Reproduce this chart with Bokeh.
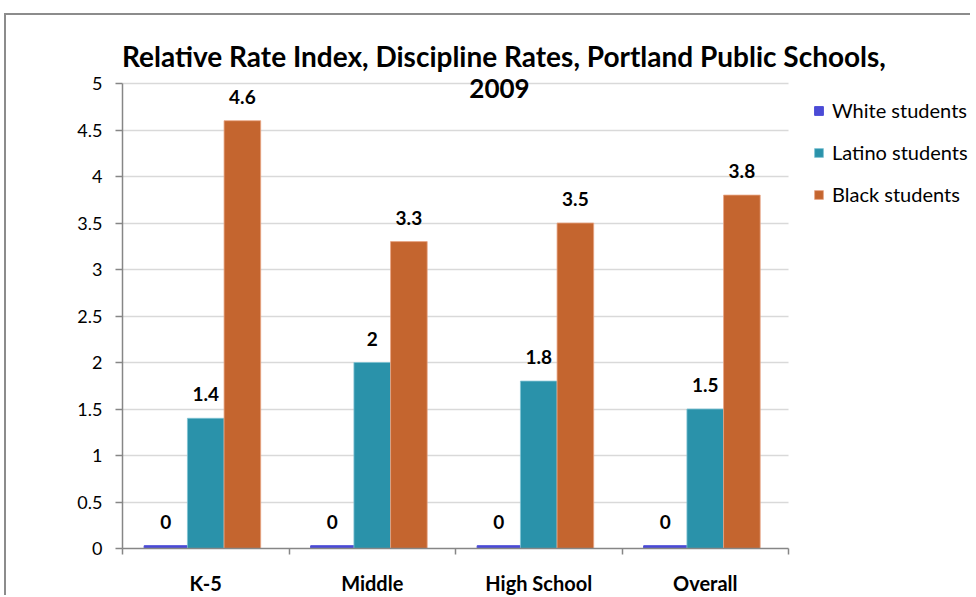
from bokeh.plotting import figure
from bokeh.models import (Range1d, LinearAxis, FixedTicker,
                          ColumnDataSource, Legend, LegendItem, Label)
from bokeh.transform import dodge
from bokeh.core.properties import value
from bokeh.embed import file_html
from bokeh.resources import INLINE

categories = ["K-5", "Middle", "High School", "Overall"]
white = [0.03, 0.03, 0.03, 0.03]
latino = [1.4, 2.0, 1.8, 1.5]
black = [4.6, 3.3, 3.5, 3.8]
series_names = ["White students", "Latino students", "Black students"]
y_ticks = [0, 0.5, 1, 1.5, 2, 2.5, 3, 3.5, 4, 4.5, 5]
title_lines = ["Relative Rate Index, Discipline Rates, Portland Public Schools,", "2009"]

FONT = "Lato"
colors = ["#4B4BD6", "#2A92AA", "#C4652F"]

def fmt(v):
    return f"{round(v, 1):g}"

n = len(categories)
centers = [i + 0.5 for i in range(n)]
boundaries = list(range(n + 1))
y_max_tick = y_ticks[-1]

src = ColumnDataSource(dict(
    xc=centers, white=white, latino=latino, black=black,
    wl=[fmt(v) for v in white], ll=[fmt(v) for v in latino], bl=[fmt(v) for v in black],
))

# canvas geometry (pixels)
W, H = 966, 582
LEFT, BOTTOM = 116, 49
PX_PER_CAT = 166.5
PX_PER_UNIT = 93.0
x_end = (W - LEFT) / PX_PER_CAT
y_end = (H - BOTTOM) / PX_PER_UNIT

p = figure(width=W, height=H, x_range=Range1d(0, x_end),
           y_range=Range1d(0, y_end), output_backend="svg", toolbar_location=None,
           x_axis_location=None, y_axis_location=None,
           min_border_left=LEFT, min_border_right=0, min_border_top=0, min_border_bottom=BOTTOM)
p.margin = (13, 0, 0, 4)
p.styles = {"border-top": "2px solid #8C8C8C", "border-left": "2px solid #8C8C8C"}
p.outline_line_color = None
p.background_fill_color = "white"
p.border_fill_color = "white"

# y axis
yax = LinearAxis(ticker=FixedTicker(ticks=y_ticks), bounds=(0, y_max_tick))
yax.axis_line_color = "#868686"
yax.axis_line_width = 1.5
yax.major_tick_line_color = "#868686"
yax.major_tick_line_width = 1.5
yax.major_tick_out = 7
yax.major_tick_in = 0
yax.minor_tick_line_color = None
yax.major_label_text_font = FONT
yax.major_label_text_font_size = "18px"
yax.major_label_text_color = "#000000"
yax.major_label_standoff = 13
p.add_layout(yax, "left")

# x axis: labels at category centres, tick marks at category boundaries
xax = LinearAxis(ticker=FixedTicker(ticks=centers, minor_ticks=boundaries), bounds=(0, n),
                 major_label_overrides={c: lab for c, lab in zip(centers, categories)})
xax.axis_line_color = "#868686"
xax.axis_line_width = 1.5
xax.major_tick_line_color = None
xax.major_tick_out = 0
xax.major_tick_in = 0
xax.minor_tick_line_color = "#868686"
xax.minor_tick_line_width = 1.5
xax.minor_tick_out = 6
xax.minor_tick_in = 0
xax.major_label_text_font = FONT
xax.major_label_text_font_style = "bold"
xax.major_label_text_font_size = "20px"
xax.major_label_text_color = "#000000"
xax.major_label_standoff = 16
p.add_layout(xax, "below")

p.xgrid.visible = False
p.ygrid.ticker = FixedTicker(ticks=y_ticks)
p.ygrid.grid_line_color = "#D9D9D9"
p.ygrid.grid_line_width = 1.5
try:
    p.ygrid.cross_bounds = (0, n)
except Exception:
    p.ygrid.visible = False
    p.segment(x0=[0] * len(y_ticks[1:]), x1=[n] * len(y_ticks[1:]), y0=y_ticks[1:], y1=y_ticks[1:],
              line_color="#D9D9D9", line_width=1.5)

r_w = p.vbar(x=dodge("xc", -0.24), top="white", width=0.26, source=src,
             fill_color=colors[0], line_color=colors[0])
r_l = p.vbar(x=dodge("xc", 0.0), top="latino", width=0.22, source=src,
             fill_color=colors[1], line_color="#7FC3D3", line_width=0.8)
r_b = p.vbar(x=dodge("xc", 0.22), top="black", width=0.22, source=src,
             fill_color=colors[2], line_color="#E8A584", line_width=0.8)

for off, col, lab in [(-0.24, "white", "wl"), (0.0, "latino", "ll"), (0.22, "black", "bl")]:
    p.text(x=dodge("xc", off), y=col, text=lab, source=src,
           text_align="center", text_baseline="middle", y_offset=-24,
           text_font=value(FONT), text_font_style="bold", text_font_size="19px",
           text_color="#000000")

legend = Legend(items=[LegendItem(label=nm, renderers=[r]) for nm, r in zip(series_names, [r_w, r_l, r_b])],
                location=(691, 342))
legend.glyph_width = 11
legend.glyph_height = 11
legend.label_height = 22
legend.label_text_font = FONT
legend.label_text_font_size = "20px"
legend.label_text_color = "#000000"
legend.label_standoff = 8
legend.spacing = 18
legend.padding = 0
legend.margin = 0
legend.border_line_color = None
legend.background_fill_alpha = 0
p.add_layout(legend, "center")

t1 = Label(x=2.291, y=5.301, text=title_lines[0],
           text_align="center", text_baseline="middle", text_font=FONT, text_font_style="bold",
           text_font_size="28px", text_color="#000000")
t2 = Label(x=2.264, y=4.946, text=title_lines[1],
           text_align="center", text_baseline="middle", text_font=FONT, text_font_style="bold",
           text_font_size="26px", text_color="#000000")
p.add_layout(t1)
p.add_layout(t2)

open("out.html", "w").write(file_html(p, INLINE))
